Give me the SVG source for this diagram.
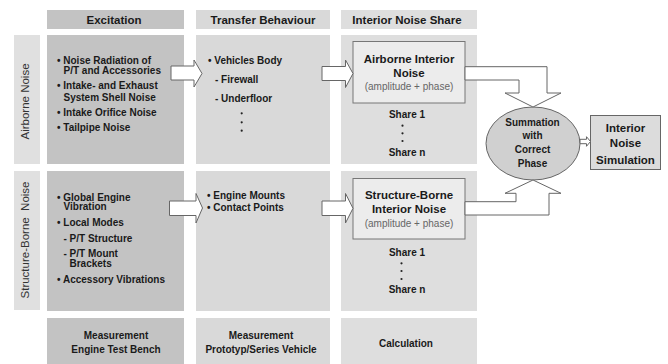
<svg xmlns="http://www.w3.org/2000/svg" width="668" height="364" viewBox="0 0 668 364">
<style>
text{font-family:"Liberation Sans",Arial,sans-serif;fill:#1a1a1a}
.hd{font-size:11.5px;font-weight:bold;text-anchor:middle}
.li{font-size:10px;font-weight:bold}
.c{text-anchor:middle}
.vl{font-size:11.5px;fill:#333;text-anchor:middle;white-space:pre}
.sub{font-size:10px;fill:#666;text-anchor:middle}
.ti{font-size:11.5px;font-weight:bold;text-anchor:middle}
.el{font-size:10px;font-weight:bold;text-anchor:middle}
.exc{fill:#c3c3c3}
.trf{fill:#d9d9d9}
.ins{fill:#dedede}
.strip{fill:#e0e0e0}
.box{fill:#ececec;stroke:#777;stroke-width:1}
.arr{fill:#fff;stroke:#666;stroke-width:1;stroke-linejoin:miter}
.dot{fill:#222}
</style>
<rect width="668" height="364" fill="#fff"/>
<g id="headers">
<rect class="exc" x="47" y="10" width="137" height="19"/>
<text class="hd" x="114" y="24">Excitation</text>
<rect class="trf" x="196" y="10" width="134" height="19"/>
<text class="hd" x="263" y="24">Transfer Behaviour</text>
<rect class="ins" x="341" y="10" width="136" height="19"/>
<text class="hd" x="407" y="24">Interior Noise Share</text>
</g>
<g id="row-labels">
<rect class="strip" x="14" y="35" width="26" height="129"/>
<text class="vl" transform="translate(29,101.5) rotate(-90)">Airborne Noise</text>
<rect class="strip" x="14" y="171" width="26" height="139"/>
<text class="vl" xml:space="preserve" transform="translate(29,240) rotate(-90)">Structure-Borne  Noise</text>
</g>
<g id="airborne-excitation">
<rect class="exc" x="47" y="35" width="137" height="129"/>
<text class="li" x="57" y="63.8">• Noise Radiation of</text>
<text class="li" x="63.5" y="73.9">P/T and Accessories</text>
<text class="li" x="57" y="89">• Intake- and Exhaust</text>
<text class="li" x="63.5" y="100.6">System Shell Noise</text>
<text class="li" x="57" y="115.7">• Intake Orifice Noise</text>
<text class="li" x="57" y="131">• Tailpipe Noise</text>
</g>
<g id="airborne-transfer">
<rect class="trf" x="196" y="35" width="134" height="129"/>
<text class="li" x="208" y="64">• Vehicles Body</text>
<text class="li" x="215" y="82.7">- Firewall</text>
<text class="li" x="215" y="101.6">- Underfloor</text>
<circle class="dot" cx="241.7" cy="113.3" r="1.1"/>
<circle class="dot" cx="241.7" cy="122.3" r="1.1"/>
<circle class="dot" cx="241.7" cy="130.7" r="1.1"/>
</g>
<g id="airborne-share">
<rect class="ins" x="341" y="35" width="136" height="129"/>
<rect class="box" x="353" y="41.5" width="112" height="61.5"/>
<text class="ti" x="409" y="63.3">Airborne Interior</text>
<text class="ti" x="409" y="76.7">Noise</text>
<text class="sub" x="409" y="89.5">(amplitude + phase)</text>
<text class="li c" x="407" y="118.3">Share 1</text>
<circle class="dot" cx="402.5" cy="125.7" r="1.1"/>
<circle class="dot" cx="402.5" cy="133.3" r="1.1"/>
<circle class="dot" cx="402.5" cy="141" r="1.1"/>
<text class="li c" x="407" y="155.6">Share n</text>
</g>
<g id="structure-excitation">
<rect class="exc" x="47" y="171" width="137" height="140"/>
<text class="li" x="57" y="200.7">• Global Engine</text>
<text class="li" x="63.5" y="210.3">Vibration</text>
<text class="li" x="57" y="226">• Local Modes</text>
<text class="li" x="63.5" y="241.5">- P/T Structure</text>
<text class="li" x="63.5" y="257.3">- P/T Mount</text>
<text class="li" x="69.5" y="267.3">Brackets</text>
<text class="li" x="57" y="283.3">• Accessory Vibrations</text>
</g>
<g id="structure-transfer">
<rect class="trf" x="196" y="171" width="134" height="140"/>
<text class="li" x="207" y="199.3">• Engine Mounts</text>
<text class="li" x="207" y="211">• Contact Points</text>
</g>
<g id="structure-share">
<rect class="ins" x="341" y="171" width="136" height="140"/>
<rect class="box" x="353" y="178.5" width="112" height="60.5"/>
<text class="ti" x="409" y="199.3">Structure-Borne</text>
<text class="ti" x="409" y="213.3">Interior Noise</text>
<text class="sub" x="409" y="226.5">(amplitude + phase)</text>
<text class="li c" x="407" y="255.7">Share 1</text>
<circle class="dot" cx="401.5" cy="263.3" r="1.1"/>
<circle class="dot" cx="401.5" cy="271" r="1.1"/>
<circle class="dot" cx="401.5" cy="279" r="1.1"/>
<text class="li c" x="407" y="293.3">Share n</text>
</g>
<g id="bottom-row">
<rect class="exc" x="47" y="318" width="137" height="46"/>
<text class="li c" x="116" y="339">Measurement</text>
<text class="li c" x="116" y="353.3">Engine Test Bench</text>
<rect class="trf" x="196" y="318" width="134" height="46"/>
<text class="li c" x="261" y="339">Measurement</text>
<text class="li c" x="261" y="353.3">Prototyp/Series Vehicle</text>
<rect class="ins" x="341" y="318" width="136" height="46"/>
<text class="li c" x="406" y="346.7">Calculation</text>
</g>
<g id="summation">
<ellipse cx="533" cy="143.5" rx="47" ry="36.5" fill="#d0d0d0" stroke="#666" stroke-width="1"/>
<text class="el" x="532.5" y="125.5">Summation</text>
<text class="el" x="532.5" y="139.2">with</text>
<text class="el" x="532.5" y="153">Correct</text>
<text class="el" x="532.5" y="166.7">Phase</text>
</g>
<g id="simulation">
<rect x="590.5" y="115.5" width="70" height="54" fill="#dcdcdc" stroke="#666" stroke-width="1"/>
<text class="ti" x="625.5" y="131.6">Interior</text>
<text class="ti" x="625.5" y="147.4">Noise</text>
<text class="ti" x="625.5" y="163.8">Simulation</text>
</g>
<g id="connectors">
<polygon class="arr" points="171,66 194,66 194,60 202,73.5 194,87 194,80 171,80"/>
<polygon class="arr" points="322,66.5 345.5,66.5 345.5,60 353,73.5 345.5,87.5 345.5,80.5 322,80.5"/>
<polygon class="arr" points="169.5,201 196,201 196,193.5 202.5,208 196,223 196,215.5 169.5,215.5"/>
<polygon class="arr" points="322,201 345.5,201 345.5,193.5 353,208.3 345.5,223 345.5,215.5 322,215.5"/>
<polygon class="arr" points="465,66.7 547,66.7 547,93 561,93 533,107 505,93 519,93 519,80 465,80"/>
<polygon class="arr" points="465,215 549,215 549,193.3 561,193.3 533,180 505,193.3 516,193.3 516,201.7 465,201.7"/>
<polygon class="arr" points="580,139.3 586.5,139.3 586.5,136.7 590.5,141.5 586.5,146.3 586.5,143.7 580,143.7"/>
</g>
</svg>
